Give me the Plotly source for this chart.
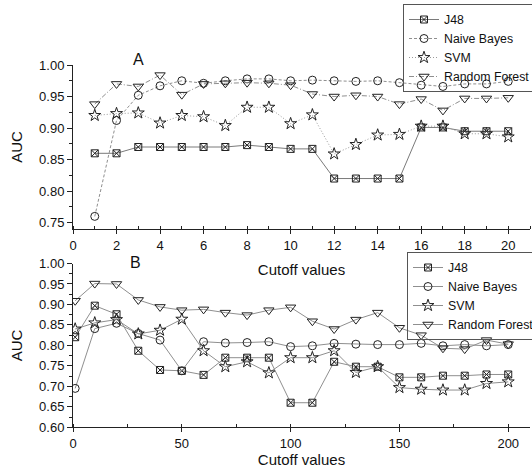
import plotly.graph_objects as go

# ---- Panel A: cutoff values 1..20 ----
cutoff_a = list(range(1, 21))
j48_a = [0.860, 0.860, 0.870, 0.870, 0.870, 0.870, 0.870, 0.873, 0.870, 0.867,
         0.867, 0.820, 0.820, 0.820, 0.820, 0.901, 0.901, 0.895, 0.895, 0.895]
nb_a = [0.760, 0.912, 0.952, 0.967, 0.975, 0.971, 0.975, 0.978, 0.978, 0.975,
        0.976, 0.975, 0.974, 0.975, 0.972, 0.968, 0.966, 0.970, 0.970, 0.974]
svm_a = [0.920, 0.923, 0.924, 0.908, 0.920, 0.918, 0.904, 0.933, 0.933, 0.907,
         0.921, 0.859, 0.874, 0.889, 0.890, 0.903, 0.903, 0.891, 0.891, 0.886]
rf_a = [0.938, 0.970, 0.966, 0.984, 0.953, 0.970, 0.971, 0.972, 0.971, 0.968,
        0.954, 0.950, 0.952, 0.950, 0.938, 0.946, 0.928, 0.947, 0.947, 0.948]

# ---- Panel B: cutoff values 1, 10, 20, ..., 200 ----
cutoff_b = [1] + list(range(10, 201, 10))
j48_b = [0.820, 0.897, 0.876, 0.787, 0.740, 0.738, 0.728, 0.770, 0.770, 0.770, 0.660,
         0.660, 0.760, 0.748, 0.748, 0.722, 0.722, 0.726, 0.726, 0.729, 0.729]
nb_b = [0.695, 0.841, 0.854, 0.829, 0.813, 0.738, 0.809, 0.806, 0.807, 0.809, 0.797,
        0.799, 0.805, 0.803, 0.802, 0.802, 0.805, 0.799, 0.802, 0.799, 0.802]
svm_b = [0.840, 0.855, 0.863, 0.828, 0.837, 0.864, 0.787, 0.748, 0.760, 0.733, 0.770,
         0.770, 0.787, 0.734, 0.748, 0.697, 0.693, 0.691, 0.691, 0.707, 0.711]
rf_b = [0.909, 0.951, 0.950, 0.911, 0.894, 0.886, 0.888, 0.880, 0.874, 0.886, 0.893,
        0.859, 0.840, 0.863, 0.880, 0.843, 0.825, 0.793, 0.791, 0.813, 0.803]

names = ["J48", "Naive Bayes", "SVM", "Random Forest"]
symbols = ["square-x-open", "circle-open", "star-open", "triangle-down-open"]
sizes = [7, 8, 9, 9]
dashes_a = ["solid", "3px,2px", "1px,2px", "5px,2px,1px,2px"]
line_colors_a = ["#7a7a7a", "#8f8f8f", "#9a9a9a", "#8f8f8f"]

FONT = "Arial, Liberation Sans, sans-serif"
LINE = "#8f8f8f"
INK = "#222222"

fig = go.Figure()

for name, ys, sym, sz, dash, lc in zip(names, [j48_a, nb_a, svm_a, rf_a], symbols,
                                       sizes, dashes_a, line_colors_a):
    fig.add_trace(go.Scatter(
        x=cutoff_a, y=ys, name=name, mode="lines+markers",
        line=dict(color=lc, width=1, dash=dash),
        marker=dict(symbol=sym, size=sz, color=INK, line=dict(width=1)),
        xaxis="x", yaxis="y", legend="legend",
    ))

for name, ys, sym, sz in zip(names, [j48_b, nb_b, svm_b, rf_b], symbols, sizes):
    fig.add_trace(go.Scatter(
        x=cutoff_b, y=ys, name=name, mode="lines+markers",
        line=dict(color=LINE, width=1),
        marker=dict(symbol=sym, size=sz, color=INK, line=dict(width=1)),
        xaxis="x2", yaxis="y2", legend="legend2",
    ))

H = 470.0

def ydom(top_px, bottom_px):
    return [1 - bottom_px / H, 1 - top_px / H]

axis_common = dict(
    showline=True, linecolor=INK, linewidth=1, showgrid=False, zeroline=False,
    tickfont=dict(family=FONT, size=13, color="#111"), tickcolor=INK,
    automargin=False,
)

legend_common = dict(
    xanchor="left", yanchor="top",
    bordercolor="#555", borderwidth=1, bgcolor="rgba(255,255,255,0)",
    font=dict(family=FONT, size=12.3, color="#111"),
    tracegroupgap=0, itemwidth=30,
)

fig.update_layout(
    width=532, height=470,
    margin=dict(l=73, r=2, t=0, b=0, autoexpand=False),
    paper_bgcolor="white", plot_bgcolor="white",
    font=dict(family=FONT, color="#111"),
    xaxis=dict(
        axis_common, domain=[0, 1], range=[0, 21], anchor="y",
        dtick=2, tick0=0, ticks="outside", ticklen=4,
        minor=dict(dtick=1, ticks="inside", ticklen=3, tickcolor=INK),
        title=dict(text="Cutoff values", font=dict(size=15), standoff=12),
    ),
    yaxis=dict(
        axis_common, domain=ydom(65, 229), range=[0.74, 1.0], anchor="x",
        dtick=0.05, tick0=0.75, tickformat=".2f", ticks="outside", ticklen=5,
        minor=dict(dtick=0.025, ticks="outside", ticklen=3, tickcolor=INK),
        title=dict(text="AUC", font=dict(size=15), standoff=12),
    ),
    xaxis2=dict(
        axis_common, domain=[0, 1], range=[0, 210], anchor="y2",
        dtick=50, tick0=0, ticks="outside", ticklen=4,
        minor=dict(dtick=25, ticks="inside", ticklen=3, tickcolor=INK),
        title=dict(text="Cutoff values", font=dict(size=15), standoff=0),
    ),
    yaxis2=dict(
        axis_common, domain=ydom(263.5, 427.3), range=[0.6, 1.0], anchor="x2",
        dtick=0.05, tick0=0.6, tickformat=".2f", ticks="outside", ticklen=5,
        minor=dict(dtick=0.025, ticks="outside", ticklen=3, tickcolor=INK),
        title=dict(text="AUC", font=dict(size=15), standoff=12),
    ),
    legend=dict(legend_common, x=(403 - 73) / 457, y=1 - 4 / H),
    legend2=dict(legend_common, x=(407 - 73) / 457, y=1 - 252 / H),
    annotations=[
        dict(text="A", x=3, y=1.098, xref="x", yref="y domain", showarrow=False,
             font=dict(family=FONT, size=16, color="#111")),
        dict(text="B", x=28.5, y=1.070, xref="x2", yref="y2 domain", showarrow=False,
             font=dict(family=FONT, size=16, color="#111")),
    ],
)

fig.write_html("out.html")
